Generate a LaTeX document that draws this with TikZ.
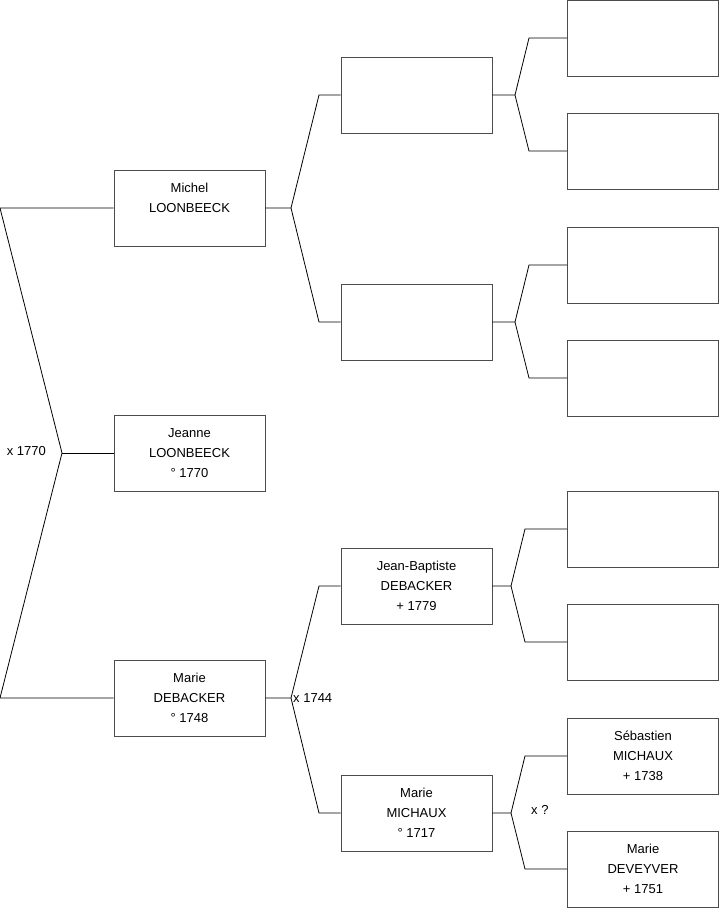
\documentclass[tikz,border=0pt]{standalone}
\usepackage{fontspec}
\setmainfont{Liberation Sans}
\newcommand{\persontext}[1]{\parbox[c][76pt][t]{151pt}{\centering\vspace*{8pt}\strut#1}}
\begin{document}
\begin{tikzpicture}[
    x=1pt, y=-1pt,
    person/.style={rectangle, draw=black!70, line width=0.9pt, inner sep=0pt,
                   minimum width=151pt, minimum height=76pt,
                   font=\fontsize{13}{20}\selectfont},
    link/.style={black, line width=0.8pt},
    wed/.style={inner sep=0pt, font=\fontsize{13}{16}\selectfont}
]
\useasboundingbox (0,0) rectangle (719,908);

% generation 1
\node[person] (mich) at (189.5, 208) {\persontext{Michel\\LOONBEECK}};
\node[person] (jeanne) at (189.5, 453) {\persontext{Jeanne\\LOONBEECK\\° 1770}};
\node[person] (marie) at (189.5, 698) {\persontext{Marie\\DEBACKER\\° 1748}};

% generation 2
\node[person] (pa) at (416.5, 95) {};
\node[person] (pb) at (416.5, 322) {};
\node[person] (jb) at (416.5, 586) {\persontext{Jean-Baptiste\\DEBACKER\\+ 1779}};
\node[person] (mm) at (416.5, 813) {\persontext{Marie\\MICHAUX\\° 1717}};

% generation 3
\node[person] (paa) at (643, 38) {};
\node[person] (pab) at (643, 151) {};
\node[person] (pba) at (643, 265) {};
\node[person] (pbb) at (643, 378) {};
\node[person] (jba) at (643, 529) {};
\node[person] (jbb) at (643, 642) {};
\node[person] (seb) at (643, 756) {\persontext{Sébastien\\MICHAUX\\+ 1738}};
\node[person] (dev) at (643, 869) {\persontext{Marie\\DEVEYVER\\+ 1751}};

% forks
\coordinate (r1) at (0, 208);
\coordinate (r2) at (0, 698);
\coordinate (f0) at (62, 453);
\coordinate (fm) at (291, 208);
\coordinate (fm1) at (319, 95);
\coordinate (fm2) at (319, 322);
\coordinate (fd) at (291, 698);
\coordinate (fd1) at (319, 586);
\coordinate (fd2) at (319, 813);
\coordinate (fa) at (515, 95);
\coordinate (fa1) at (529, 38);
\coordinate (fa2) at (529, 151);
\coordinate (fb) at (515, 322);
\coordinate (fb1) at (529, 265);
\coordinate (fb2) at (529, 378);
\coordinate (fj) at (511, 586);
\coordinate (fj1) at (525, 529);
\coordinate (fj2) at (525, 642);
\coordinate (fx) at (511, 813);
\coordinate (fx1) at (525, 756);
\coordinate (fx2) at (525, 869);

\draw[link] (mich) -- (r1) -- (f0) -- (r2) -- (marie);
\draw[link] (f0) -- (jeanne);
\draw[link] (mich) -- (fm) -- (fm1) -- (pa);
\draw[link] (fm) -- (fm2) -- (pb);
\draw[link] (marie) -- (fd) -- (fd1) -- (jb);
\draw[link] (fd) -- (fd2) -- (mm);
\draw[link] (pa) -- (fa) -- (fa1) -- (paa);
\draw[link] (fa) -- (fa2) -- (pab);
\draw[link] (pb) -- (fb) -- (fb1) -- (pba);
\draw[link] (fb) -- (fb2) -- (pbb);
\draw[link] (jb) -- (fj) -- (fj1) -- (jba);
\draw[link] (fj) -- (fj2) -- (jbb);
\draw[link] (mm) -- (fx) -- (fx1) -- (seb);
\draw[link] (fx) -- (fx2) -- (dev);

% marriages
\node[wed, anchor=east] (w0) at (46, 451) {x 1770};
\node[wed, anchor=west] (w1) at (293, 698) {x 1744};
\node[wed, anchor=west] (w2) at (531, 810) {x ?};
\end{tikzpicture}
\end{document}
